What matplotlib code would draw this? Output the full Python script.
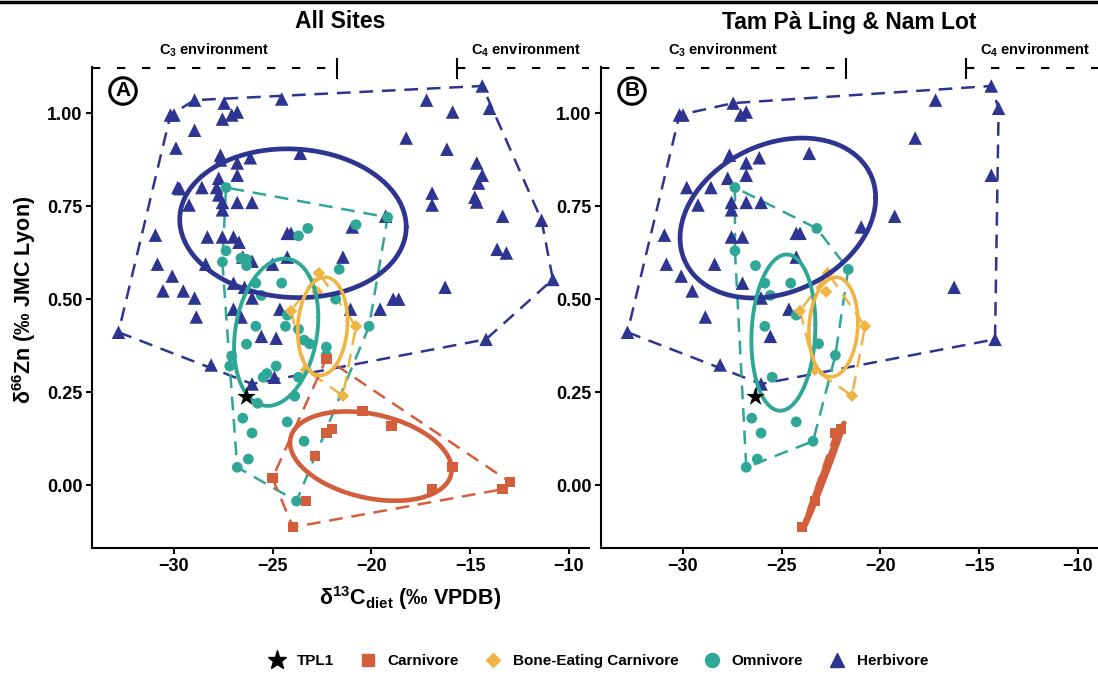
import numpy as np
import matplotlib
matplotlib.use("Agg")
import matplotlib.pyplot as plt
from matplotlib.lines import Line2D

plt.rcParams['font.family'] = ['Liberation Sans', 'DejaVu Sans']
plt.rcParams['font.weight'] = 'bold'
plt.rcParams['mathtext.fontset'] = 'custom'
plt.rcParams['mathtext.rm'] = 'Liberation Sans:bold'
plt.rcParams['mathtext.it'] = 'Liberation Sans:bold'
plt.rcParams['mathtext.bf'] = 'Liberation Sans:bold'

# ---------------- data ----------------
# Herbivores from Tam Pa Ling & Nam Lot (shown in both panels)
herb_tpl_x = [-30.17, -29.99, -27.45, -27.07, -26.79, -27.64, -26.13, -23.60, -26.79, -26.79,
              -29.80, -28.58, -27.73, -29.23, -27.54, -26.79, -26.04, -27.54, -30.93, -24.26,
              -24.07, -14.39, -17.21, -14.02, -18.24, -14.39, -19.28, -20.97, -16.27, -14.20,
              -32.80, -27.54, -26.98, -30.83, -28.39, -30.08, -29.52, -28.86, -26.98, -24.26,
              -26.04, -24.63, -25.57, -28.11, -26.04]
herb_tpl_y = [0.995, 0.995, 1.027, 0.995, 1.003, 0.887, 0.880, 0.892, 0.866, 0.833,
              0.800, 0.800, 0.825, 0.753, 0.760, 0.760, 0.760, 0.740, 0.672, 0.677,
              0.677, 1.073, 1.035, 1.013, 0.933, 0.833, 0.723, 0.694, 0.532, 0.392,
              0.411, 0.667, 0.667, 0.594, 0.594, 0.562, 0.522, 0.452, 0.543, 0.613,
              0.503, 0.473, 0.400, 0.323, 0.272]
# Herbivores from other sites (panel A only)
herb_oth_x = [-28.95, -27.54, -24.54, -28.95, -29.89, -27.64, -29.70, -27.83, -27.73, -28.30,
              -26.70, -15.89, -16.18, -14.67, -14.58, -16.93, -16.93, -14.77, -14.67, -13.36,
              -11.39, -21.44, -13.64, -13.17, -10.82, -18.90, -18.62, -21.06, -19.56, -30.55,
              -28.95, -26.04, -26.51, -25.01, -26.42, -26.98, -26.60, -24.82, -24.91]
herb_oth_y = [1.035, 0.984, 1.038, 0.954, 0.906, 0.874, 0.797, 0.800, 0.780, 0.667,
              0.653, 1.003, 0.903, 0.866, 0.812, 0.785, 0.753, 0.774, 0.761, 0.723,
              0.712, 0.613, 0.634, 0.624, 0.553, 0.500, 0.500, 0.473, 0.473, 0.522,
              0.503, 0.602, 0.613, 0.594, 0.532, 0.473, 0.452, 0.395, 0.290]

omni_tpl_x = [-27.36, -23.22, -27.36, -26.32, -25.85, -24.54, -25.57, -24.26, -25.85, -21.63,
              -23.13, -22.28, -25.48, -26.51, -26.04, -24.26, -23.41, -26.23, -26.79]
omni_tpl_y = [0.800, 0.690, 0.630, 0.590, 0.543, 0.543, 0.510, 0.457, 0.427, 0.580,
              0.380, 0.349, 0.290, 0.180, 0.140, 0.170, 0.118, 0.070, 0.048]
omni_oth_x = [-23.69, -19.18, -20.78, -27.54, -26.60, -26.32, -24.35, -23.69, -23.41, -26.32,
              -22.28, -21.81, -20.12, -27.07, -27.17, -24.82, -25.29, -23.69, -23.88, -25.76, -23.79]
omni_oth_y = [0.670, 0.720, 0.700, 0.600, 0.610, 0.607, 0.427, 0.419, 0.390, 0.379,
              0.371, 0.500, 0.427, 0.347, 0.320, 0.320, 0.300, 0.290, 0.239, 0.220, -0.043]

bone_x = [-22.66, -22.75, -24.07, -20.78, -23.32, -21.44]
bone_y = [0.570, 0.520, 0.468, 0.427, 0.310, 0.240]

carn_tpl_x = [-23.97, -23.32, -22.28, -22.00]
carn_tpl_y = [-0.113, -0.043, 0.140, 0.150]
carn_oth_x = [-22.28, -20.45, -18.99, -22.85, -15.89, -16.93, -12.98, -13.36, -25.01]
carn_oth_y = [0.340, 0.199, 0.159, 0.078, 0.048, -0.011, 0.008, -0.011, 0.019]

tpl1_x = [-26.32]
tpl1_y = [0.237]

# ellipse readings: centre x, centre y, x half-extent, y half-extent, correlation
ell_A = {
    'Herbivore': (-23.97, 0.704, 5.73, 0.200, -0.05),
    'Omnivore': (-24.82, 0.411, 2.13, 0.198, 0.2),
    'Bone-Eating Carnivore': (-22.47, 0.427, 1.26, 0.132, 0.1),
    'Carnivore': (-20.03, 0.078, 4.09, 0.120, -0.3),
}
ell_B = {
    'Herbivore': (-25.19, 0.718, 4.95, 0.215, 0.25),
    'Omnivore': (-24.91, 0.410, 1.62, 0.210, 0.1),
    'Bone-Eating Carnivore': (-22.38, 0.425, 1.24, 0.134, 0.1),
    'Carnivore': (-22.85, 0.027, 1.01, 0.140, 0.995),
}

# environment boundaries (x) and label positions
c3_end = -21.72
c4_start = -15.67
c3_label_x = -27.98
c4_label_x = -12.17

colors = {'Carnivore': '#D35E3C', 'Bone-Eating Carnivore': '#EFB443',
          'Omnivore': '#2EA797', 'Herbivore': '#2E3590'}
markers = {'Carnivore': 's', 'Bone-Eating Carnivore': 'D', 'Omnivore': 'o', 'Herbivore': '^'}
msizes = {'Carnivore': 55, 'Bone-Eating Carnivore': 40, 'Omnivore': 60, 'Herbivore': 95}
ell_lw = {'Carnivore': 3.3, 'Bone-Eating Carnivore': 2.6, 'Omnivore': 2.8, 'Herbivore': 3.4}


def hull(px, py):
    pts = sorted(set(zip(px, py)))
    if len(pts) < 3:
        return pts
    def cross(o, a, b):
        return (a[0]-o[0])*(b[1]-o[1]) - (a[1]-o[1])*(b[0]-o[0])
    lower, upper = [], []
    for p in pts:
        while len(lower) >= 2 and cross(lower[-2], lower[-1], p) <= 0:
            lower.pop()
        lower.append(p)
    for p in reversed(pts):
        while len(upper) >= 2 and cross(upper[-2], upper[-1], p) <= 0:
            upper.pop()
        upper.append(p)
    h = lower[:-1] + upper[:-1]
    return h + [h[0]]


def ellipse(cx, cy, a, b, r):
    t = np.linspace(0, 2*np.pi, 200)
    return cx + a*np.cos(t), cy + b*(r*np.cos(t) + np.sqrt(1-r*r)*np.sin(t))


fig = plt.figure(figsize=(10.98, 6.75), dpi=100)
W, H = 1098, 675
XL = (-34.14, -8.99)
YL = (-0.169, 1.124)

panels = [
    ('All Sites', 'A', 92, {
        'Herbivore': (herb_tpl_x + herb_oth_x, herb_tpl_y + herb_oth_y),
        'Omnivore': (omni_tpl_x + omni_oth_x, omni_tpl_y + omni_oth_y),
        'Bone-Eating Carnivore': (bone_x, bone_y),
        'Carnivore': (carn_tpl_x + carn_oth_x, carn_tpl_y + carn_oth_y)}, ell_A),
    ('Tam Pà Ling & Nam Lot', 'B', 601, {
        'Herbivore': (herb_tpl_x, herb_tpl_y),
        'Omnivore': (omni_tpl_x, omni_tpl_y),
        'Bone-Eating Carnivore': (bone_x, bone_y),
        'Carnivore': (carn_tpl_x, carn_tpl_y)}, ell_B),
]

order = ['Herbivore', 'Omnivore', 'Bone-Eating Carnivore', 'Carnivore']
for title, letter, left, data, ells in panels:
    ax = fig.add_axes([left/W, 1-548/H, 497/W, 481/H])
    ax.set_xlim(*XL)
    ax.set_ylim(*YL)
    for g in order:
        gx, gy = data[g]
        h = hull(gx, gy)
        if len(h) > 2:
            ax.plot([p[0] for p in h], [p[1] for p in h], color=colors[g], lw=1.8,
                    ls=(0, (5.5, 3.5)), zorder=1)
    for g in order:
        gx, gy = data[g]
        ax.scatter(gx, gy, s=msizes[g], marker=markers[g], color=colors[g],
                   edgecolors='none', zorder=2)
    for g in order:
        ex, ey = ellipse(*ells[g])
        ax.plot(ex, ey, color=colors[g], lw=ell_lw[g], zorder=3, solid_capstyle='round')
    ax.scatter(tpl1_x, tpl1_y, s=200, marker='*', color='black', zorder=5, edgecolors='none')

    for s in ['top', 'right']:
        ax.spines[s].set_visible(False)
    for s in ['left', 'bottom']:
        ax.spines[s].set_linewidth(1.5)
    ax.set_xticks([-30, -25, -20, -15, -10])
    ax.set_yticks([0.0, 0.25, 0.5, 0.75, 1.0])
    ax.set_yticklabels(['0.00', '0.25', '0.50', '0.75', '1.00'])
    ax.tick_params(direction='out', length=4, width=1.5, labelsize=13, pad=3)
    for lab in ax.get_xticklabels() + ax.get_yticklabels():
        lab.set_fontweight('bold')

    # environment brackets
    yb = 1.12
    ax.plot([XL[0], c3_end], [yb, yb], color='black', lw=1.5, ls=(0, (4, 8)),
            clip_on=False, zorder=6)
    ax.plot([c3_end, c3_end], [yb-0.025, yb+0.025], color='black', lw=1.5, clip_on=False)
    ax.plot([c4_start, XL[1]], [yb, yb], color='black', lw=1.5, ls=(0, (4, 8)),
            clip_on=False, zorder=6)
    ax.plot([c4_start, c4_start], [yb-0.025, yb+0.025], color='black', lw=1.5, clip_on=False)
    ax.text(c3_label_x, 1.17, 'C$_3$ environment', ha='center', va='center', fontsize=10.5,
            fontweight='bold', clip_on=False)
    ax.text(c4_label_x, 1.17, 'C$_4$ environment', ha='center', va='center', fontsize=10.5,
            fontweight='bold', clip_on=False)

    ax.text(31/497, 1-(91-67)/481, letter, transform=ax.transAxes, ha='center', va='center',
            fontsize=15, fontweight='bold',
            bbox=dict(boxstyle='circle,pad=0.18', fc='white', ec='black', lw=2.2), zorder=7)

    ax.text(0.5, 1-(22-67)/481, title, transform=ax.transAxes, ha='center', va='center',
            fontsize=16.5, fontweight='bold', clip_on=False)

fig.text(410/W, 1-598/H, r'δ$^{13}$C$_{diet}$ (‰ VPDB)', ha='center', va='center',
         fontsize=15.5, fontweight='bold')
fig.text(24/W, 1-300/H, r'δ$^{66}$Zn (‰ JMC Lyon)', ha='center', va='center',
         fontsize=15.5, fontweight='bold', rotation=90)

# top border
fig.add_artist(Line2D([0, 1], [1-1.5/H, 1-1.5/H], transform=fig.transFigure,
                      color='black', lw=2.5))

handles = [Line2D([], [], ls='none', marker='*', color='black', markersize=14),
           Line2D([], [], ls='none', marker='s', color=colors['Carnivore'], markersize=9),
           Line2D([], [], ls='none', marker='D', color=colors['Bone-Eating Carnivore'], markersize=7.5),
           Line2D([], [], ls='none', marker='o', color=colors['Omnivore'], markersize=10),
           Line2D([], [], ls='none', marker='^', color=colors['Herbivore'], markersize=10)]
labels = ['TPL1', 'Carnivore', 'Bone-Eating Carnivore', 'Omnivore', 'Herbivore']
fig.legend(handles, labels, loc='center', bbox_to_anchor=(598/W, 1-661/H), ncol=5,
           frameon=False, prop={'weight': 'bold', 'size': 11}, handletextpad=0.7,
           columnspacing=1.6, handlelength=1.2)

fig.savefig('out.png', dpi=100)
